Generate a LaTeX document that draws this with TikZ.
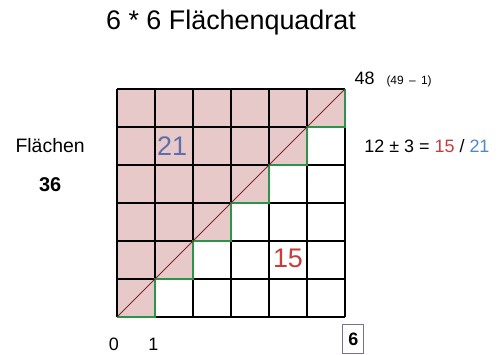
\documentclass[tikz,border=0pt]{standalone}
\usepackage{fontspec}
\setmainfont{Liberation Sans}

\definecolor{feldrot}{RGB}{231,201,201}
\definecolor{treppe}{RGB}{40,150,70}
\definecolor{diag}{RGB}{120,40,40}
\definecolor{zahlrot}{RGB}{200,60,60}
\definecolor{zahlblau}{RGB}{95,110,170}
\definecolor{hellblau}{RGB}{80,135,200}
\definecolor{rahmen}{RGB}{120,110,150}

\begin{document}
\begin{tikzpicture}[x=38bp,y=38bp,
    gross/.style={font=\fontsize{27}{31}\selectfont},
    mittel/.style={font=\fontsize{18}{22}\selectfont},
    klein/.style={font=\fontsize{12}{14}\selectfont}]
  \useasboundingbox (-3.079,-1) rectangle (10.053,8.342);
  \coordinate (o) at (0,0);
  \coordinate (e) at (6,6);
  % Flaechen oberhalb der Treppe
  \fill[feldrot] (o) \foreach \i in {1,...,6} { -- (\i,\i-1) -- (\i,\i) } -- (0,6) -- cycle;
  \foreach \i in {0,...,6} {
    \draw[line width=1.4bp] (\i,0) -- (\i,6);
    \draw[line width=1.4bp] (0,\i) -- (6,\i);
  }
  \draw[treppe, line width=1.4bp] (o) \foreach \i in {1,...,6} { -- (\i,\i-1) -- (\i,\i) };
  \draw[diag, line width=0.8bp] (o) -- (e);
  % Beschriftung
  \node[gross] (titel) at (3.0,7.74) {6 * 6 Flächenquadrat};
  \node[mittel, anchor=base west] (max) at (6.16,6.13) {48};
  \node[klein, anchor=base west] (rechnung) at (7.0,6.13) {(49 \,–\, 1)};
  \node[mittel, anchor=base west] (formel) at (6.42,4.32)
    {12 ± 3 = \textcolor{zahlrot}{15} / \textcolor{hellblau}{21}};
  \node[mittel, anchor=base, font=\fontsize{19.5}{23}\selectfont] (flaechen) at (-1.76,4.32) {Flächen};
  \node[mittel, anchor=base, font=\fontsize{20}{24}\selectfont] (anzahl) at (-1.76,3.29) {\bfseries 36};
  \node[gross, anchor=base, text=zahlblau] (oben) at (1.45,4.26) {21};
  \node[gross, anchor=base, text=zahlrot] (unten) at (4.5,1.29) {15};
  \node[mittel, anchor=base] (null) at (-0.08,-0.87) {0};
  \node[mittel, anchor=base] (eins) at (0.96,-0.87) {1};
  \node[mittel, draw=rahmen, line width=1bp, minimum width=21bp, minimum height=29bp,
    inner sep=1bp] (sechs) at (6.22,-0.58) {\bfseries 6};
\end{tikzpicture}
\end{document}
